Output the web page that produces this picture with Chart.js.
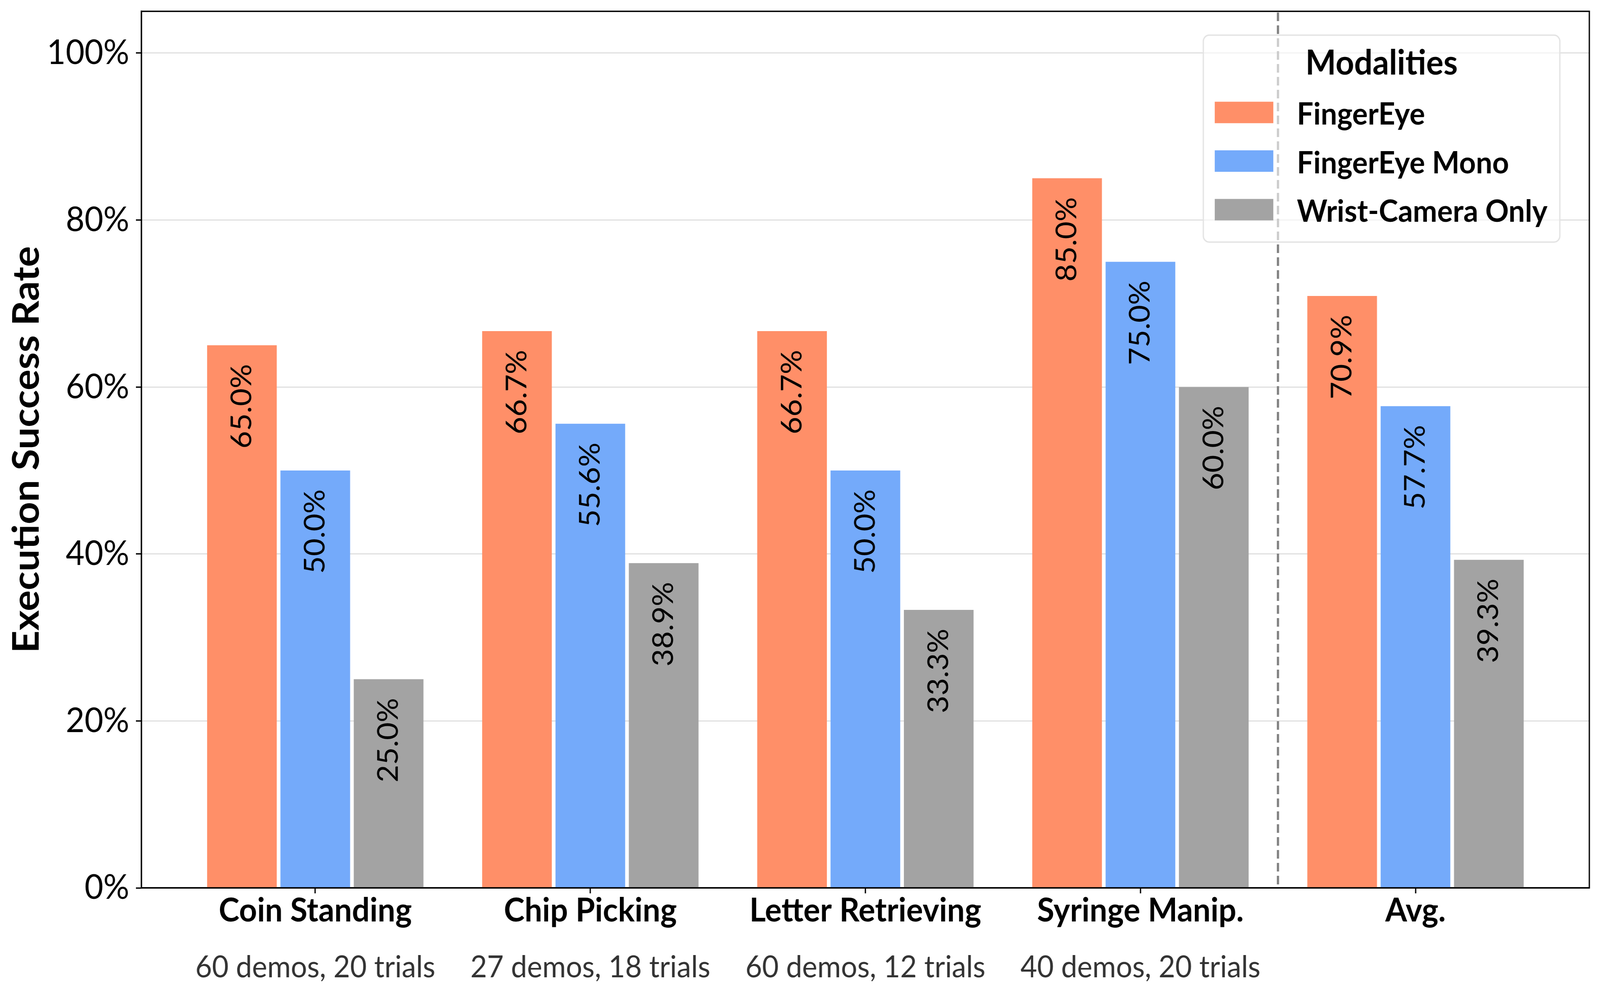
<!DOCTYPE html>
<html lang="en">
<head>
<meta charset="UTF-8">
<title>Execution Success Rate</title>
<style>
    html, body { margin: 0; padding: 0; background: #fff; overflow: hidden; }
    #chart { display: block; position: fixed; left: 0; top: 0; }
</style>
</head>
<body>
<canvas id="chart" width="4344" height="2556" style="width:100vw;height:100vh"></canvas>
<script src="https://cdn.jsdelivr.net/npm/chart.js"></script>
<script>
const tasks = ['Coin Standing', 'Chip Picking', 'Letter Retrieving', 'Syringe Manip.', 'Avg.'];
const taskNotes = ['60 demos, 20 trials', '27 demos, 18 trials', '60 demos, 12 trials', '40 demos, 20 trials', ''];
const seriesNames = ['FingerEye', 'FingerEye Mono', 'Wrist-Camera Only'];
const fingerEye = [65.0, 66.7, 66.7, 85.0, 70.9];
const fingerEyeMono = [50.0, 55.6, 50.0, 75.0, 57.7];
const wristOnly = [25.0, 38.9, 33.3, 60.0, 39.3];
const yTicks = [0, 20, 40, 60, 80, 100];
const separatorAt = 3.5;   // dashed line between the tasks and the average

const FONT = 'Lato, "Open Sans", sans-serif';
const colors = ['#FF8F68', '#74AAFA', '#A3A3A3'];

function toPoints(values) {
    return values.map((v, i) => ({ x: i, y: v }));
}

// frame, separator, value labels, subtitles and legend
const extras = {
    id: 'extras',
    afterDraw(chart) {
        const ctx = chart.ctx;
        const area = chart.chartArea;
        const xs = chart.scales.x;
        ctx.save();

        // dashed separator
        const sx = xs.getPixelForValue(separatorAt);
        ctx.strokeStyle = '#808080';
        ctx.lineWidth = 6;
        ctx.setLineDash([22, 11]);
        ctx.beginPath();
        ctx.moveTo(sx, area.top + 3);
        ctx.lineTo(sx, area.bottom);
        ctx.stroke();
        ctx.setLineDash([]);

        // plot frame
        ctx.strokeStyle = '#000';
        ctx.lineWidth = 3.5;
        ctx.strokeRect(area.left, area.top, area.right - area.left, area.bottom - area.top);

        // rotated value labels
        ctx.font = '78px ' + FONT;
        ctx.fillStyle = '#000';
        ctx.textAlign = 'right';
        ctx.textBaseline = 'middle';
        chart.data.datasets.forEach((ds, di) => {
            chart.getDatasetMeta(di).data.forEach((bar, i) => {
                ctx.save();
                ctx.translate(bar.x, bar.y + 48);
                ctx.rotate(-Math.PI / 2);
                ctx.fillText(ds.data[i].y.toFixed(1) + '%', 0, 0);
                ctx.restore();
            });
        });

        // demo / trial counts under the task names
        ctx.font = '78px ' + FONT;
        ctx.fillStyle = '#333';
        ctx.textAlign = 'center';
        ctx.textBaseline = 'alphabetic';
        taskNotes.forEach((t, i) => {
            if (t) ctx.fillText(t, xs.getPixelForValue(i), 2503);
        });

        // legend
        const bx = 3267, by = 90, bw = 968, bh = 530;
        ctx.fillStyle = 'rgba(255,255,255,0.6)';
        ctx.strokeStyle = '#e3e3e3';
        ctx.lineWidth = 3.5;
        ctx.beginPath();
        ctx.roundRect(bx, by, bw, bh, 16);
        ctx.fill();
        ctx.stroke();

        ctx.fillStyle = '#000';
        ctx.font = 'bold 88px ' + FONT;
        ctx.textAlign = 'center';
        ctx.fillText('Modalities', bx + bw / 2, 191);

        ctx.font = 'bold 79px ' + FONT;
        ctx.textAlign = 'left';
        chart.data.datasets.forEach((ds, di) => {
            const cy = 288 + di * 124.5;
            ctx.fillStyle = ds.backgroundColor;
            ctx.fillRect(3298, cy - 27.5, 159, 55);
            ctx.fillStyle = '#000';
            ctx.fillText(ds.label, 3521, cy + 31);
        });

        ctx.restore();
    }
};

new Chart(document.getElementById('chart'), {
    type: 'bar',
    data: {
        datasets: [
            { label: seriesNames[0], data: toPoints(fingerEye), backgroundColor: colors[0] },
            { label: seriesNames[1], data: toPoints(fingerEyeMono), backgroundColor: colors[1] },
            { label: seriesNames[2], data: toPoints(wristOnly), backgroundColor: colors[2] }
        ]
    },
    options: {
        responsive: false,
        devicePixelRatio: 1,
        animation: false,
        layout: { padding: { top: 29, right: 29, left: 0, bottom: 0 } },
        datasets: { bar: { categoryPercentage: 0.8, barPercentage: 0.95, borderWidth: 0 } },
        plugins: {
            legend: { display: false },
            tooltip: { enabled: false }
        },
        scales: {
            x: {
                type: 'linear',
                offset: false,
                min: -0.632,
                max: 4.632,
                afterBuildTicks: s => { s.ticks = tasks.map((_, i) => ({ value: i })); },
                afterFit: s => {
                    s.height = 282;
                    s.paddingLeft = 0;
                    s.paddingRight = 0;
                },
                ticks: {
                    callback: v => tasks[v],
                    font: { family: FONT, size: 85, weight: 'bold', lineHeight: 1 },
                    color: '#000',
                    padding: 2,
                    maxRotation: 0,
                    autoSkip: false
                },
                grid: { offset: false, drawOnChartArea: false, tickLength: 14, tickWidth: 3.5, tickColor: '#000' },
                border: { color: '#000', width: 3.5 }
            },
            y: {
                min: 0,
                max: 105,
                z: 1,
                afterBuildTicks: s => { s.ticks = yTicks.map(v => ({ value: v })); },
                afterFit: s => {
                    s.width = 384;
                    s.paddingTop = 0;
                    s.paddingBottom = 0;
                },
                ticks: {
                    callback: v => v + '%',
                    font: { family: FONT, size: 88 },
                    color: '#000',
                    padding: 18
                },
                grid: { color: 'rgba(0,0,0,0.12)', lineWidth: 3, tickLength: 15, tickWidth: 3.5, tickColor: '#000' },
                border: { color: '#000', width: 3.5 },
                title: {
                    display: true,
                    text: 'Execution Success Rate',
                    font: { family: FONT, size: 100, weight: 'bold' },
                    color: '#000',
                    padding: { top: 13, bottom: 0 }
                }
            }
        }
    },
    plugins: [extras]
});
</script>
</body>
</html>
